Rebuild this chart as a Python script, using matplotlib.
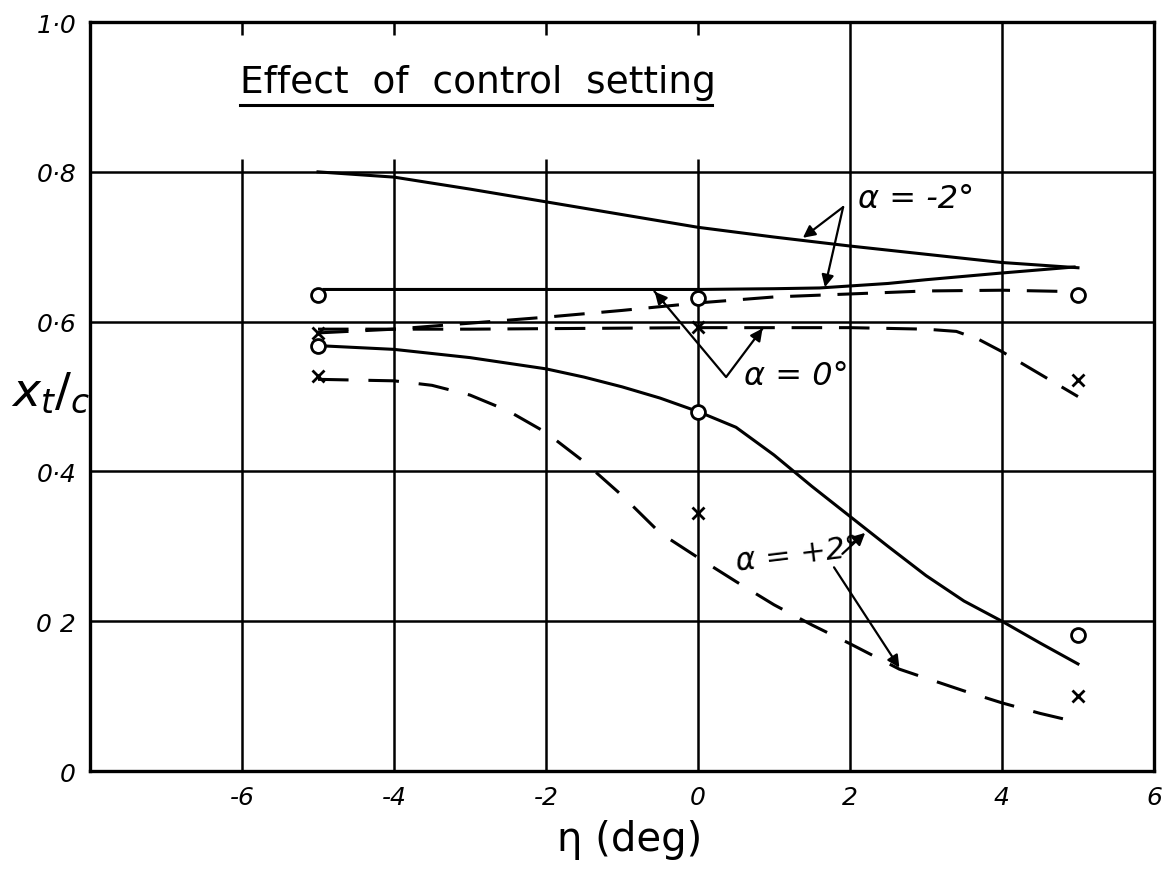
import numpy as np
import matplotlib.pyplot as plt

plt.rcParams['font.family'] = ['DejaVu Sans']

# solid curves
eta_a = [-5, -4, -3, -2, -1, 0, 1, 2, 3, 4, 5]
xt_a = [0.800, 0.793, 0.777, 0.760, 0.743, 0.726, 0.713, 0.701, 0.690, 0.679, 0.672]

eta_b = [-4.92, -3, -1, 0, 1, 1.6, 2.5, 3, 4, 4.95]
xt_b = [0.643, 0.643, 0.643, 0.643, 0.644, 0.645, 0.651, 0.656, 0.665, 0.673]

eta_e = [-5, -4, -3, -2, -1.5, -1, -0.5, 0, 0.5, 1, 1.5, 2, 2.5, 3, 3.5, 4, 4.5, 5]
xt_e = [0.568, 0.563, 0.552, 0.537, 0.526, 0.513, 0.498, 0.480, 0.459, 0.422, 0.380, 0.340, 0.300, 0.261, 0.227, 0.200, 0.171, 0.143]

# dashed curves
eta_c = [-5, -4, -3, -2, -1, 0, 1, 2, 3, 4, 5]
xt_c = [0.585, 0.590, 0.598, 0.606, 0.615, 0.625, 0.633, 0.637, 0.641, 0.642, 0.640]

eta_d = [-5, -3, 0, 2, 3, 3.4, 3.7, 4, 4.5, 5]
xt_d = [0.590, 0.590, 0.592, 0.592, 0.590, 0.587, 0.576, 0.560, 0.530, 0.500]

eta_f = [-5, -4, -3.5, -3, -2.5, -2, -1.5, -1, -0.5, 0, 0.5, 1, 1.5, 2, 2.65, 3, 3.5, 4, 4.5, 5]
xt_f = [0.523, 0.521, 0.515, 0.502, 0.481, 0.452, 0.413, 0.368, 0.318, 0.285, 0.253, 0.222, 0.195, 0.170, 0.136, 0.124, 0.107, 0.091, 0.077, 0.065]

# measured points
circ_eta = [-5, 0, 5, -5, 0, 5]
circ_xt = [0.635, 0.631, 0.636, 0.568, 0.479, 0.182]
cross_eta = [-5, 0, 5, -5, 0, 5]
cross_xt = [0.585, 0.593, 0.522, 0.527, 0.345, 0.100]

xticks = [-6, -4, -2, 0, 2, 4, 6]
xticklabels = ['-6', '-4', '-2', '0', '2', '4', '6']
yticks = [0, 0.2, 0.4, 0.6, 0.8, 1.0]
yticklabels = ['0', '0 2', '0·4', '0·6', '0·8', '1·0']

fig = plt.figure(figsize=(11.75, 8.78), dpi=100)
ax = fig.add_axes([0.0766, 0.1207, 0.9055, 0.853])
ax.set_xlim(-8, 6)
ax.set_ylim(0, 1.0)

# grid: full below 0.8, only ticks/partial above
for y in [0.2, 0.4, 0.6, 0.8]:
    ax.axhline(y, color='black', lw=1.8, zorder=1)
ax.vlines([-6, -4, -2, 0, 2, 4], 0, 0.8, color='black', lw=1.8, zorder=1)
ax.vlines([2, 4], 0.8, 1.0, color='black', lw=1.8, zorder=1)
ax.vlines([-6, -4, -2, 0], 0.8, 0.817, color='black', lw=1.8, zorder=1)
ax.vlines([-6, -4, -2, 0], 0.983, 1.0, color='black', lw=1.8, zorder=1)

for s in ax.spines.values():
    s.set_linewidth(2.4)

ax.set_xticks(xticks)
ax.set_xticklabels(xticklabels, fontsize=18, style='italic')
ax.set_yticks(yticks)
ax.set_yticklabels(yticklabels, fontsize=18, style='italic')
ax.tick_params(length=0, pad=10)

lw = 2.2
ax.plot(eta_a, xt_a, color='black', lw=lw, zorder=3)
ax.plot(eta_b, xt_b, color='black', lw=lw, zorder=3)
ax.plot(eta_e, xt_e, color='black', lw=lw, zorder=3)
ax.plot(eta_c, xt_c, color='black', lw=lw, dashes=(10, 5.5), zorder=3)
ax.plot(eta_d, xt_d, color='black', lw=lw, dashes=(10, 5.5), zorder=3)
ax.plot(eta_f, xt_f, color='black', lw=lw, dashes=(10, 6.5), zorder=3)

ax.plot(circ_eta, circ_xt, 'o', ms=10, mfc='white', mec='black', mew=2, zorder=4)
ax.plot(cross_eta, cross_xt, 'x', ms=9, mec='black', mew=2, zorder=4)

# title with underline
ax.text(-6.03, 0.92, 'Effect  of  control  setting', fontsize=27, va='center', ha='left')
ax.plot([-6.03, 0.18], [0.889, 0.889], color='black', lw=2.2)

arr = dict(arrowstyle='-|>', color='black', lw=1.6, mutation_scale=18, shrinkA=0, shrinkB=0)

ax.text(2.1, 0.764, 'α = -2°', fontsize=23, va='center', ha='left', style='italic')
ax.annotate('', xy=(1.38, 0.712), xytext=(1.91, 0.753), arrowprops=arr)
ax.annotate('', xy=(1.67, 0.646), xytext=(1.91, 0.753), arrowprops=arr)

ax.text(0.6, 0.528, 'α = 0°', fontsize=23, va='center', ha='left', style='italic')
ax.plot([-0.57, 0.37, 0.85], [0.640, 0.526, 0.591], color='black', lw=1.6)
ax.annotate('', xy=(-0.57, 0.640), xytext=(-0.45, 0.626), arrowprops=arr)
ax.annotate('', xy=(0.85, 0.591), xytext=(0.75, 0.577), arrowprops=arr)

ax.text(0.48, 0.29, 'α = +2°', fontsize=22, va='center', ha='left', rotation=7, style='italic')
ax.annotate('', xy=(2.2, 0.318), xytext=(1.9, 0.29), arrowprops=arr)
ax.annotate('', xy=(2.65, 0.138), xytext=(1.79, 0.272), arrowprops=arr)

fig.text(0.043, 0.552, r'$x_{t}/_{c}$', fontsize=34, ha='center', va='center')
fig.text(0.536, 0.043, 'η (deg)', fontsize=29, ha='center', va='center')

fig.savefig('out.png', dpi=100)
